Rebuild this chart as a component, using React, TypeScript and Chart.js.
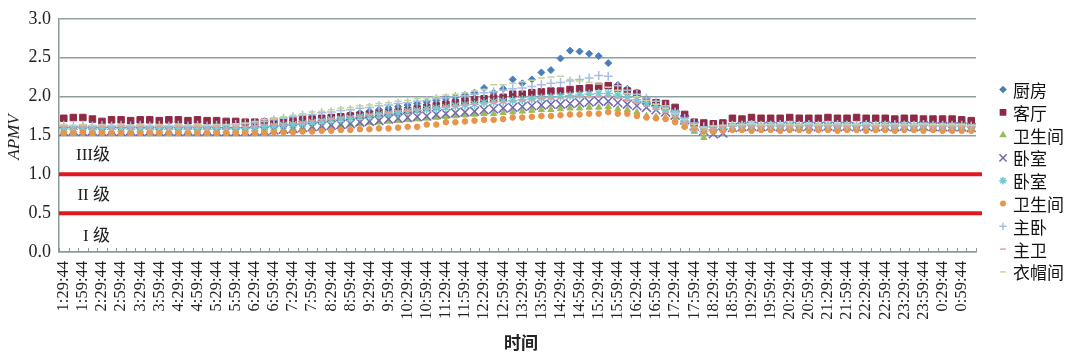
import React, { useEffect, useRef } from 'react';
import { Chart, registerables } from 'chart.js';
import { drawPoint } from 'chart.js/helpers';

Chart.register(...registerables);

const timeLabels = [
  '1:29:44', '1:44:44', '1:59:44', '2:14:44', '2:29:44', '2:44:44', '2:59:44', '3:14:44', '3:29:44', '3:44:44', '3:59:44', '4:14:44',
  '4:29:44', '4:44:44', '4:59:44', '5:14:44', '5:29:44', '5:44:44', '5:59:44', '6:14:44', '6:29:44', '6:44:44', '6:59:44', '7:14:44',
  '7:29:44', '7:44:44', '7:59:44', '8:14:44', '8:29:44', '8:44:44', '8:59:44', '9:14:44', '9:29:44', '9:44:44', '9:59:44', '10:14:44',
  '10:29:44', '10:44:44', '10:59:44', '11:14:44', '11:29:44', '11:44:44', '11:59:44', '12:14:44', '12:29:44', '12:44:44', '12:59:44', '13:14:44',
  '13:29:44', '13:44:44', '13:59:44', '14:14:44', '14:29:44', '14:44:44', '14:59:44', '15:14:44', '15:29:44', '15:44:44', '15:59:44', '16:14:44',
  '16:29:44', '16:44:44', '16:59:44', '17:14:44', '17:29:44', '17:44:44', '17:59:44', '18:14:44', '18:29:44', '18:44:44', '18:59:44', '19:14:44',
  '19:29:44', '19:44:44', '19:59:44', '20:14:44', '20:29:44', '20:44:44', '20:59:44', '21:14:44', '21:29:44', '21:44:44', '21:59:44', '22:14:44',
  '22:29:44', '22:44:44', '22:59:44', '23:14:44', '23:29:44', '23:44:44', '23:59:44', '0:14:44', '0:29:44', '0:44:44', '0:59:44', '1:14:44',
];

const kitchen = [
  1.60, 1.58, 1.61, 1.59, 1.58, 1.60, 1.59, 1.58, 1.60, 1.59, 1.58, 1.59,
  1.58, 1.59, 1.58, 1.59, 1.58, 1.59, 1.58, 1.59, 1.60, 1.61, 1.62, 1.64,
  1.66, 1.68, 1.70, 1.72, 1.73, 1.75, 1.77, 1.79, 1.81, 1.83, 1.85, 1.87,
  1.89, 1.91, 1.93, 1.95, 1.97, 1.99, 2.02, 2.05, 2.11, 2.05, 2.10, 2.22,
  2.17, 2.22, 2.31, 2.34, 2.49, 2.59, 2.58, 2.55, 2.52, 2.43, 2.15, 2.10,
  2.05, 1.97, 1.92, 1.85, 1.77, 1.69, 1.62, 1.58, 1.60, 1.61, 1.62, 1.61,
  1.62, 1.61, 1.62, 1.61, 1.62, 1.61, 1.62, 1.61, 1.62, 1.61, 1.62, 1.61,
  1.62, 1.61, 1.62, 1.61, 1.62, 1.61, 1.62, 1.61, 1.61, 1.60, 1.61, 1.60,
];

const livingRoom = [
  1.72, 1.73, 1.73, 1.71, 1.68, 1.70, 1.70, 1.69, 1.70, 1.70, 1.69, 1.70,
  1.70, 1.69, 1.70, 1.69, 1.69, 1.68, 1.68, 1.67, 1.67, 1.67, 1.68, 1.68,
  1.69, 1.70, 1.71, 1.72, 1.73, 1.74, 1.75, 1.76, 1.77, 1.78, 1.79, 1.80,
  1.82, 1.84, 1.86, 1.88, 1.90, 1.92, 1.94, 1.96, 1.97, 1.98, 1.99, 2.03,
  2.03, 2.05, 2.06, 2.07, 2.07, 2.09, 2.10, 2.11, 2.13, 2.14, 2.11, 2.07,
  2.04, 1.94, 1.92, 1.91, 1.86, 1.77, 1.67, 1.66, 1.65, 1.66, 1.72, 1.71,
  1.73, 1.72, 1.72, 1.72, 1.73, 1.72, 1.72, 1.72, 1.73, 1.72, 1.72, 1.73,
  1.72, 1.72, 1.72, 1.71, 1.72, 1.72, 1.71, 1.71, 1.71, 1.71, 1.70, 1.69,
];

const bathroomA = [
  1.56, 1.57, 1.56, 1.57, 1.56, 1.56, 1.57, 1.56, 1.56, 1.57, 1.56, 1.56,
  1.56, 1.56, 1.57, 1.56, 1.56, 1.56, 1.56, 1.57, 1.57, 1.57, 1.58, 1.58,
  1.59, 1.60, 1.60, 1.61, 1.62, 1.63, 1.64, 1.65, 1.66, 1.67, 1.68, 1.69,
  1.70, 1.71, 1.72, 1.73, 1.74, 1.75, 1.76, 1.77, 1.78, 1.78, 1.79, 1.80,
  1.81, 1.82, 1.83, 1.83, 1.84, 1.85, 1.85, 1.86, 1.86, 1.87, 1.84, 1.83,
  1.80, 1.75, 1.74, 1.73, 1.70, 1.62, 1.55, 1.47, 1.56, 1.59, 1.60, 1.60,
  1.61, 1.60, 1.60, 1.61, 1.60, 1.60, 1.61, 1.60, 1.60, 1.61, 1.60, 1.60,
  1.61, 1.60, 1.60, 1.61, 1.60, 1.60, 1.61, 1.60, 1.60, 1.60, 1.60, 1.60,
];

const bedroomA = [
  1.55, 1.56, 1.55, 1.56, 1.55, 1.56, 1.55, 1.56, 1.55, 1.56, 1.55, 1.56,
  1.55, 1.56, 1.55, 1.56, 1.55, 1.55, 1.55, 1.55, 1.56, 1.56, 1.57, 1.58,
  1.59, 1.60, 1.61, 1.62, 1.63, 1.64, 1.65, 1.67, 1.68, 1.69, 1.71, 1.72,
  1.73, 1.74, 1.75, 1.77, 1.78, 1.79, 1.80, 1.81, 1.83, 1.84, 1.85, 1.86,
  1.87, 1.88, 1.89, 1.90, 1.90, 1.91, 1.92, 1.93, 1.94, 1.94, 1.92, 1.90,
  1.88, 1.86, 1.83, 1.80, 1.76, 1.70, 1.62, 1.56, 1.52, 1.53, 1.60, 1.61,
  1.62, 1.61, 1.62, 1.61, 1.62, 1.61, 1.62, 1.61, 1.62, 1.61, 1.62, 1.61,
  1.62, 1.61, 1.62, 1.61, 1.62, 1.61, 1.62, 1.61, 1.61, 1.61, 1.61, 1.60,
];

const bedroomB = [
  1.59, 1.58, 1.60, 1.58, 1.59, 1.58, 1.59, 1.58, 1.59, 1.58, 1.59, 1.58,
  1.59, 1.58, 1.59, 1.58, 1.59, 1.58, 1.59, 1.59, 1.60, 1.61, 1.62, 1.63,
  1.64, 1.65, 1.67, 1.68, 1.70, 1.71, 1.72, 1.74, 1.75, 1.77, 1.78, 1.79,
  1.81, 1.82, 1.84, 1.85, 1.86, 1.88, 1.89, 1.90, 1.92, 1.93, 1.94, 1.95,
  1.96, 1.97, 1.98, 1.99, 2.00, 2.01, 2.02, 2.03, 2.04, 2.04, 2.02, 1.99,
  1.96, 1.92, 1.87, 1.83, 1.79, 1.68, 1.58, 1.55, 1.57, 1.59, 1.62, 1.63,
  1.63, 1.62, 1.63, 1.62, 1.63, 1.62, 1.63, 1.62, 1.63, 1.62, 1.63, 1.62,
  1.63, 1.62, 1.63, 1.62, 1.63, 1.62, 1.63, 1.62, 1.62, 1.62, 1.62, 1.61,
];

const bathroomB = [
  1.53, 1.53, 1.54, 1.53, 1.53, 1.53, 1.53, 1.53, 1.53, 1.53, 1.53, 1.53,
  1.53, 1.53, 1.53, 1.53, 1.53, 1.53, 1.53, 1.53, 1.53, 1.53, 1.54, 1.54,
  1.54, 1.55, 1.55, 1.56, 1.56, 1.57, 1.57, 1.58, 1.58, 1.59, 1.59, 1.60,
  1.61, 1.61, 1.64, 1.64, 1.67, 1.67, 1.68, 1.69, 1.70, 1.70, 1.71, 1.73,
  1.73, 1.74, 1.75, 1.75, 1.76, 1.77, 1.77, 1.78, 1.78, 1.80, 1.78, 1.78,
  1.75, 1.73, 1.72, 1.71, 1.67, 1.61, 1.59, 1.55, 1.55, 1.56, 1.57, 1.57,
  1.56, 1.57, 1.57, 1.56, 1.57, 1.57, 1.56, 1.57, 1.57, 1.56, 1.57, 1.57,
  1.56, 1.57, 1.57, 1.56, 1.57, 1.57, 1.56, 1.57, 1.56, 1.56, 1.56, 1.56,
];

const masterBedroom = [
  1.63, 1.62, 1.63, 1.62, 1.63, 1.62, 1.63, 1.62, 1.63, 1.62, 1.63, 1.62,
  1.63, 1.62, 1.63, 1.62, 1.63, 1.63, 1.64, 1.65, 1.66, 1.68, 1.70, 1.72,
  1.74, 1.76, 1.77, 1.79, 1.80, 1.82, 1.83, 1.85, 1.86, 1.88, 1.89, 1.91,
  1.92, 1.94, 1.95, 1.97, 1.98, 2.00, 2.01, 2.03, 2.05, 2.06, 2.08, 2.10,
  2.11, 2.13, 2.15, 2.17, 2.18, 2.20, 2.22, 2.24, 2.27, 2.26, 2.14, 2.08,
  2.03, 1.98, 1.94, 1.88, 1.80, 1.72, 1.66, 1.61, 1.62, 1.62, 1.63, 1.63,
  1.64, 1.63, 1.63, 1.64, 1.63, 1.63, 1.64, 1.63, 1.63, 1.64, 1.63, 1.63,
  1.64, 1.63, 1.63, 1.64, 1.63, 1.63, 1.64, 1.63, 1.63, 1.63, 1.63, 1.62,
];

const masterBath = [
  1.61, 1.60, 1.61, 1.60, 1.61, 1.60, 1.61, 1.60, 1.61, 1.60, 1.61, 1.60,
  1.61, 1.60, 1.61, 1.60, 1.61, 1.60, 1.61, 1.61, 1.62, 1.63, 1.64, 1.65,
  1.66, 1.67, 1.69, 1.70, 1.71, 1.73, 1.74, 1.75, 1.77, 1.78, 1.79, 1.81,
  1.82, 1.83, 1.84, 1.86, 1.87, 1.88, 1.89, 1.90, 1.91, 1.92, 1.93, 1.94,
  1.95, 1.96, 1.97, 1.97, 1.98, 1.99, 1.99, 2.00, 2.00, 2.01, 1.98, 1.95,
  1.92, 1.88, 1.84, 1.80, 1.74, 1.66, 1.60, 1.58, 1.59, 1.61, 1.62, 1.62,
  1.62, 1.61, 1.62, 1.62, 1.61, 1.62, 1.62, 1.61, 1.62, 1.62, 1.61, 1.62,
  1.62, 1.61, 1.62, 1.62, 1.61, 1.62, 1.62, 1.61, 1.61, 1.61, 1.61, 1.61,
];

const closet = [
  1.64, 1.63, 1.64, 1.63, 1.64, 1.63, 1.64, 1.63, 1.64, 1.63, 1.64, 1.63,
  1.64, 1.63, 1.64, 1.63, 1.64, 1.64, 1.65, 1.66, 1.68, 1.70, 1.72, 1.74,
  1.76, 1.78, 1.80, 1.81, 1.83, 1.85, 1.86, 1.88, 1.89, 1.91, 1.92, 1.94,
  1.95, 1.97, 1.98, 2.00, 2.02, 2.03, 2.05, 2.07, 2.09, 2.15, 2.15, 2.17,
  2.19, 2.21, 2.24, 2.25, 2.26, 2.22, 2.20, 2.18, 2.16, 2.12, 2.08, 2.04,
  2.00, 1.95, 1.90, 1.85, 1.78, 1.70, 1.64, 1.60, 1.62, 1.63, 1.64, 1.64,
  1.65, 1.64, 1.64, 1.65, 1.64, 1.64, 1.65, 1.64, 1.64, 1.65, 1.64, 1.64,
  1.65, 1.64, 1.64, 1.65, 1.64, 1.64, 1.65, 1.64, 1.64, 1.64, 1.64, 1.63,
];

const seriesNames = ['厨房', '客厅', '卫生间', '卧室', '卧室', '卫生间', '主卧', '主卫', '衣帽间'];
const seriesValues = [kitchen, livingRoom, bathroomA, bedroomA, bedroomB, bathroomB, masterBedroom, masterBath, closet];
const seriesColors = ['#4A7EBB', '#8E2A47', '#9BBB59', '#7567B0', '#74C8CF', '#E8954C', '#A6BFDF', '#D9A0A6', '#C2D69B'];
const seriesStyles = ['rectRot', 'rect', 'triangle', 'crossRot', 'star', 'circle', 'cross', 'line', 'line'];
const seriesRadius = [3.5, 4.6, 3.6, 6.3, 4.6, 2.8, 4.5, 3.5, 3.5];

const yTickValues = [0, 0.5, 1.0, 1.5, 2.0, 2.5, 3.0];
const levelLineValues = [1.0, 0.5];
const levelLabels = ['III级', 'II 级', 'I 级'];
const levelLabelValues = [1.24, 0.73, 0.2];
const xTitle = '时间';
const yTitle = 'APMV';

const SERIF = "'Liberation Serif', 'Times New Roman', 'Noto Sans CJK SC', serif";
const CJK = "'Noto Sans CJK SC', 'Liberation Serif', sans-serif";

const overlayPlugin = {
  id: 'overlay',
  beforeDatasetsDraw(chart: any) {
    const { ctx, chartArea, scales } = chart;
    ctx.save();
    ctx.strokeStyle = '#E3181F';
    ctx.lineWidth = 4;
    levelLineValues.forEach((v) => {
      const y = scales.y.getPixelForValue(v);
      ctx.beginPath();
      ctx.moveTo(chartArea.left, y);
      ctx.lineTo(chartArea.right + 6, y);
      ctx.stroke();
    });
    ctx.strokeStyle = '#8C9A9A';
    ctx.lineWidth = 1;
    const n = timeLabels.length;
    const step = (chartArea.right - chartArea.left) / n;
    for (let i = 0; i <= n; i++) {
      const x = Math.round(chartArea.left + i * step) + 0.5;
      ctx.beginPath();
      ctx.moveTo(x, chartArea.bottom);
      ctx.lineTo(x, chartArea.bottom - 4);
      ctx.stroke();
    }
    ctx.restore();
  },
  afterDraw(chart: any) {
    const { ctx, scales } = chart;
    ctx.save();
    ctx.fillStyle = '#222';
    ctx.font = `17px ${SERIF}`;
    ctx.textAlign = 'right';
    ctx.textBaseline = 'middle';
    levelLabels.forEach((t, i) => {
      ctx.fillText(t, 110, scales.y.getPixelForValue(levelLabelValues[i]));
    });
    ctx.font = `bold 17px ${CJK}`;
    ctx.textAlign = 'center';
    ctx.fillText(xTitle, 521, 343);
    ctx.save();
    ctx.translate(15, 137);
    ctx.rotate(-Math.PI / 2);
    ctx.font = `italic 17px ${SERIF}`;
    ctx.fillText(yTitle, 0, 0);
    ctx.restore();
    const x0 = 1003;
    const y0 = 89.5;
    const dy = 22.8;
    seriesNames.forEach((name, i) => {
      const y = y0 + i * dy;
      ctx.fillStyle = seriesColors[i];
      ctx.strokeStyle = seriesColors[i];
      ctx.lineWidth = 1.5;
      drawPoint(ctx, { pointStyle: seriesStyles[i], radius: seriesRadius[i] * 0.8, rotation: 0, borderWidth: 1.5 } as any, x0, y);
      ctx.fillStyle = '#111';
      ctx.font = `17px ${CJK}`;
      ctx.textAlign = 'left';
      ctx.textBaseline = 'middle';
      ctx.fillText(name, 1013, y + 1);
    });
    ctx.restore();
  },
};

export default function App() {
  const canvasRef = useRef<HTMLCanvasElement | null>(null);

  useEffect(() => {
    document.body.style.margin = '0';
    document.body.style.background = '#fff';
    const canvas = canvasRef.current;
    if (!canvas) return;
    const datasets = seriesNames.map((name, i) => ({
      label: name,
      data: seriesValues[i],
      showLine: false,
      pointStyle: seriesStyles[i],
      pointRadius: seriesRadius[i],
      pointBackgroundColor: seriesColors[i],
      pointBorderColor: seriesColors[i],
      pointBorderWidth: ['rect', 'rectRot', 'circle', 'triangle'].includes(seriesStyles[i]) ? 1 : 1.5,
      backgroundColor: seriesColors[i],
      borderColor: seriesColors[i],
      order: seriesNames.length - i,
    }));
    const chart = new Chart(canvas, {
      type: 'line',
      data: { labels: timeLabels, datasets },
      options: {
        responsive: false,
        animation: false,
        events: [],
        layout: { padding: { top: 16, right: 104, left: 0, bottom: 0 } },
        plugins: { legend: { display: false }, tooltip: { enabled: false } },
        scales: {
          x: {
            type: 'category',
            offset: true,
            grid: { display: false, drawTicks: false },
            border: { display: true, color: '#8C9A9A', width: 1.5 },
            ticks: {
              autoSkip: false,
              maxRotation: 90,
              minRotation: 90,
              padding: 9,
              color: '#222',
              font: { family: SERIF, size: 16.5 },
              callback: (_v: any, i: number) => (i % 2 === 0 ? timeLabels[i] : ''),
            },
            afterFit: (s: any) => {
              s.height = 105;
            },
          },
          y: {
            min: 0,
            max: 3,
            afterBuildTicks: (s: any) => {
              s.ticks = yTickValues.map((v) => ({ value: v }));
            },
            grid: { color: '#8FA0A0', lineWidth: 1.5, drawTicks: false },
            border: { display: true, color: '#8C9A9A', width: 1.5 },
            ticks: {
              padding: 8,
              color: '#222',
              font: { family: SERIF, size: 18 },
              callback: (v: any) => Number(v).toFixed(1),
            },
            afterFit: (s: any) => {
              s.width = 59;
            },
          },
        },
      },
      plugins: [overlayPlugin],
    });
    return () => chart.destroy();
  }, []);

  return (
    <div style={{ width: 1080, height: 357, background: '#fff' }}>
      <canvas ref={canvasRef} width={1080} height={357} />
    </div>
  );
}
